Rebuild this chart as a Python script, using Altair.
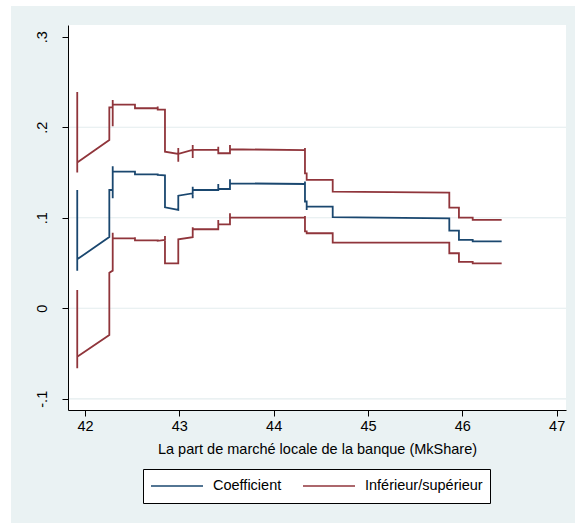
import altair as alt
import pandas as pd

# Estimated marginal effect along MkShare, with the lower / upper confidence bounds.
# Points are listed in plotting order; repeated MkShare values give the vertical jumps.
coef_x = [41.918, 41.918, 41.918, 42.258, 42.258, 42.294, 42.294, 42.294, 42.294,
          42.530, 42.530, 42.530, 42.771, 42.771, 42.771, 42.848, 42.848, 42.989, 42.989,
          43.142, 43.142, 43.142, 43.142, 43.413, 43.413, 43.413, 43.537, 43.537, 43.537,
          44.332, 44.332, 44.332, 44.350, 44.350, 44.350, 44.626, 44.626, 45.862, 45.862,
          45.964, 45.964, 46.110, 46.110, 46.417]
coef_y = [0.1307, 0.0416, 0.0541, 0.0788, 0.1307, 0.1307, 0.157, 0.1215, 0.151,
          0.151, 0.152, 0.148, 0.148, 0.149, 0.1475, 0.147, 0.1116, 0.1086, 0.1244,
          0.127, 0.1344, 0.1215, 0.1307, 0.1307, 0.1373, 0.1318, 0.1318, 0.1425, 0.1381,
          0.1373, 0.140, 0.118, 0.118, 0.1086, 0.1123, 0.1123, 0.1006, 0.0994, 0.0858,
          0.0858, 0.0755, 0.0755, 0.074, 0.074]

lower_x = [41.918, 41.918, 41.918, 42.258, 42.258, 42.294, 42.294, 42.294,
           42.530, 42.530, 42.530, 42.771, 42.771, 42.848, 42.848, 42.848, 42.989, 42.989,
           43.142, 43.142, 43.142, 43.413, 43.413, 43.413, 43.537, 43.537, 43.537,
           44.332, 44.332, 44.332, 44.350, 44.350, 44.626, 44.626, 45.862, 45.862,
           45.964, 45.964, 46.110, 46.110, 46.417]
lower_y = [0.0202, -0.0663, -0.0535, -0.0295, 0.0393, 0.0416, 0.0835, 0.0773,
           0.0773, 0.0785, 0.0751, 0.0751, 0.0745, 0.0755, 0.0799, 0.0497, 0.0497, 0.0762,
           0.0785, 0.0895, 0.0873, 0.0873, 0.0976, 0.0928, 0.0928, 0.105, 0.1001,
           0.1001, 0.102, 0.085, 0.085, 0.0829, 0.0829, 0.0725, 0.0725, 0.0608,
           0.0608, 0.0512, 0.0512, 0.0497, 0.0497]

upper_x = [41.918, 41.918, 41.918, 42.258, 42.258, 42.294, 42.294, 42.294, 42.294,
           42.530, 42.530, 42.771, 42.771, 42.771, 42.848, 42.848,
           42.989, 42.989, 42.989, 42.989, 43.142, 43.142, 43.142, 43.142,
           43.413, 43.413, 43.413, 43.537, 43.537, 43.537, 44.332, 44.332, 44.332,
           44.350, 44.350, 44.626, 44.626, 45.862, 45.862, 45.964, 45.964,
           46.110, 46.110, 46.417]
upper_y = [0.239, 0.150, 0.161, 0.186, 0.222, 0.222, 0.230, 0.201, 0.225,
           0.225, 0.221, 0.221, 0.223, 0.2195, 0.2195, 0.173,
           0.1705, 0.177, 0.162, 0.1705, 0.175, 0.1805, 0.166, 0.175,
           0.175, 0.1786, 0.1713, 0.1713, 0.1805, 0.1757, 0.1748, 0.177, 0.149,
           0.149, 0.1418, 0.1418, 0.1289, 0.1277, 0.1112, 0.1112, 0.1001,
           0.1001, 0.0976, 0.0976]

y_ticks = [-0.1, 0.0, 0.1, 0.2, 0.3]
grid_values = [-0.1, 0.0, 0.1, 0.2]
x_ticks = [42, 43, 44, 45, 46, 47]
legend_labels = ["Coefficient", "Inférieur/supérieur"]
line_colors = ["#1a476f", "#90353b"]

BG = "#EAF2F3"
GRID = "#E3ECEE"
FONT = "Liberation Sans"
FS = 14.5

frames = []
for curve, serie, xs, ys in [
    ("coef", legend_labels[0], coef_x, coef_y),
    ("lower", legend_labels[1], lower_x, lower_y),
    ("upper", legend_labels[1], upper_x, upper_y),
]:
    frames.append(pd.DataFrame({
        "mkshare": xs, "estimate": ys, "curve": curve, "serie": serie,
        "step": list(range(len(xs))),
    }))
df = pd.concat(frames, ignore_index=True)

W, H = 498, 385
x_scale = alt.Scale(domain=[41.82, 47.099], nice=False, zero=False)
y_scale = alt.Scale(domain=[-0.1124, 0.313], nice=False, zero=False)

x_axis = alt.Axis(
    values=x_ticks, format="d", title="La part de marché locale de la banque (MkShare)",
    grid=False, domainColor="black", tickColor="black", tickSize=6,
    labelColor="black", labelFontSize=FS, labelPadding=3, labelFlush=False,
    titleColor="black", titleFontSize=FS, titleFontWeight="normal", titlePadding=10,
    zindex=1,
)
y_axis = alt.Axis(
    values=y_ticks, title=None, grid=False,
    domainColor="black", tickColor="black", tickSize=6,
    labelColor="black", labelFontSize=FS, labelAngle=270,
    labelAlign="center", labelBaseline="bottom", labelPadding=13,
    labelExpr="datum.value == 0 ? '0' : (datum.value < 0 ? '-' : '') + '.' + format(abs(datum.value) * 10, 'd')",
    zindex=1,
)

one = pd.DataFrame({"k": [0]})

# graph region (light bluish gray) and white plot region
outer = alt.Chart(one).mark_rect(color=BG).encode(
    x=alt.value(-57), x2=alt.value(W + 9), y=alt.value(-19), y2=alt.value(H + 113)
)
inner = alt.Chart(one).mark_rect(color="white").encode(
    x=alt.value(0), x2=alt.value(W), y=alt.value(0), y2=alt.value(H)
)

grid = alt.Chart(pd.DataFrame({"estimate": grid_values})).mark_rule(
    color=GRID, strokeWidth=1.2
).encode(y=alt.Y("estimate:Q", scale=y_scale, axis=y_axis))

lines = alt.Chart(df).mark_line(strokeWidth=1.8).encode(
    x=alt.X("mkshare:Q", scale=x_scale, axis=x_axis),
    y=alt.Y("estimate:Q", scale=y_scale, axis=y_axis),
    color=alt.Color(
        "serie:N",
        scale=alt.Scale(domain=legend_labels, range=line_colors),
        legend=alt.Legend(
            title=None, orient="none", legendX=75, legendY=444,
            direction="horizontal", strokeColor="black", fillColor="white",
            padding=7, cornerRadius=0,
            symbolType="stroke", symbolSize=2704, symbolStrokeWidth=1.5,
            labelFontSize=FS, labelColor="black", labelOffset=9,
            columnPadding=20, clipHeight=20,
        ),
    ),
    detail="curve:N",
    order="step:Q",
)

chart = alt.layer(outer, inner, grid, lines).properties(
    width=W, height=H, background="white",
    autosize=alt.AutoSizeParams(type="none"),
    padding={"left": 68, "top": 25, "right": 9, "bottom": 113},
).configure(font=FONT).configure_view(stroke=None)

chart.save("out.html", embed_options={"renderer": "svg", "actions": False})
